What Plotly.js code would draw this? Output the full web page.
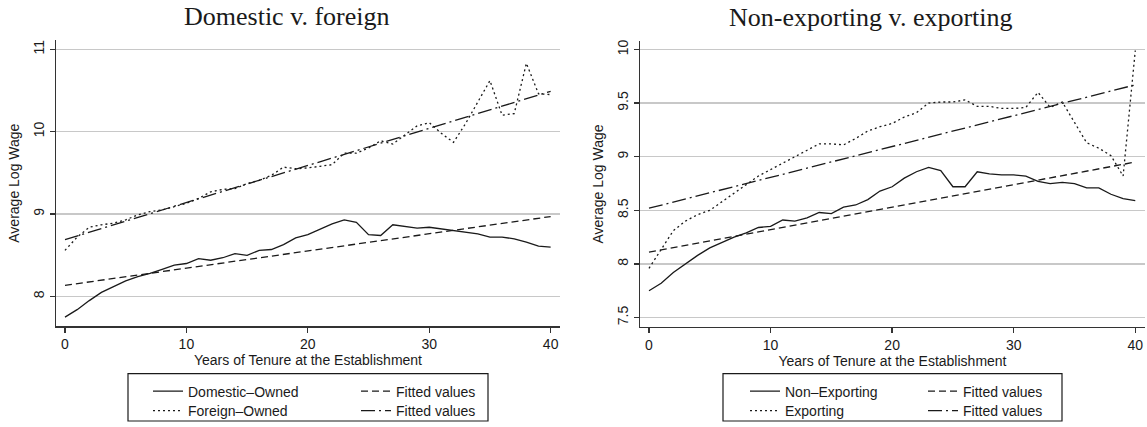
<!DOCTYPE html>
<html>
<head>
<meta charset="utf-8">
<script src="https://cdn.plot.ly/plotly-3.0.1.min.js"></script>
<style>
html,body{margin:0;padding:0;background:#fff;}
#chart{width:1147px;height:427px;}
</style>
</head>
<body>
<div id="chart"></div>
<script>
// ---------- data ----------
const tenure = [0,1,2,3,4,5,6,7,8,9,10,11,12,13,14,15,16,17,18,19,20,21,22,23,24,25,26,27,28,29,30,31,32,33,34,35,36,37,38,39,40];
const domesticOwned = [7.75,7.84,7.95,8.05,8.12,8.19,8.24,8.28,8.33,8.38,8.40,8.46,8.44,8.47,8.52,8.50,8.56,8.57,8.63,8.71,8.75,8.82,8.88,8.93,8.90,8.75,8.74,8.87,8.85,8.83,8.84,8.82,8.80,8.78,8.76,8.72,8.72,8.70,8.66,8.61,8.60];
const foreignOwned = [8.56,8.72,8.84,8.87,8.89,8.93,8.99,9.03,9.05,9.09,9.13,9.19,9.27,9.30,9.31,9.37,9.41,9.47,9.57,9.55,9.56,9.58,9.60,9.74,9.74,9.80,9.89,9.85,9.96,10.07,10.11,9.98,9.87,10.10,10.36,10.62,10.20,10.22,10.83,10.46,10.45];
const nonExporting = [7.75,7.82,7.92,8.00,8.08,8.15,8.20,8.25,8.29,8.34,8.35,8.41,8.40,8.43,8.48,8.47,8.53,8.55,8.60,8.68,8.72,8.80,8.86,8.90,8.87,8.72,8.72,8.86,8.84,8.83,8.83,8.82,8.77,8.75,8.76,8.75,8.71,8.71,8.65,8.61,8.59];
const exporting = [7.96,8.13,8.31,8.40,8.46,8.50,8.58,8.66,8.74,8.82,8.88,8.94,9.00,9.06,9.12,9.12,9.11,9.17,9.24,9.28,9.31,9.37,9.41,9.50,9.51,9.51,9.53,9.47,9.47,9.45,9.45,9.46,9.60,9.46,9.51,9.32,9.13,9.08,9.01,8.82,9.99];
// fitted (linear) values at the ends of the tenure range
const fitTenure = [0, 40];
const domesticFit = [8.135, 8.97];
const foreignFit = [8.69, 10.49];
const nonExportingFit = [8.11, 8.95];
const exportingFit = [8.52, 9.67];
// ticks
const xTicks = [0, 10, 20, 30, 40];
const leftYTicks = [8, 9, 10, 11];
const rightYTicks = [7.5, 8, 8.5, 9, 9.5, 10];
const titles = ["Domestic v. foreign", "Non-exporting v. exporting"];
const xTitle = "Years of Tenure at the Establishment";
const yTitle = "Average Log Wage";
const labels = ["Domestic\u2013Owned", "Foreign\u2013Owned", "Non\u2013Exporting", "Exporting", "Fitted values"];

// ---------- styling ----------
const W = 1147, H = 427;
const INK = '#1a1a1a';
const SANS = 'Liberation Sans, Arial, sans-serif';
const SERIF = 'Liberation Serif, Times New Roman, serif';
const solid = {color: INK, width: 1.3, dash: 'solid'};
const dashed = {color: INK, width: 1.3, dash: '7px,4px'};
const dotted = {color: INK, width: 1.3, dash: '2px,3px'};
const dashdot = {color: INK, width: 1.3, dash: '14px,4px,2px,4px'};

function tr(x, y, name, line, xa, ya, leg) {
  return {x: x, y: y, name: name, type: 'scatter', mode: 'lines', line: line,
          xaxis: xa, yaxis: ya, legend: leg, hoverinfo: 'skip'};
}

const data = [
  tr(tenure, domesticOwned, labels[0], solid, 'x', 'y', 'legend'),
  tr(fitTenure, domesticFit, labels[4], dashed, 'x', 'y', 'legend'),
  tr(tenure, foreignOwned, labels[1], dotted, 'x', 'y', 'legend2'),
  tr(fitTenure, foreignFit, labels[4], dashdot, 'x', 'y', 'legend2'),
  tr(tenure, nonExporting, labels[2], solid, 'x2', 'y2', 'legend3'),
  tr(fitTenure, nonExportingFit, labels[4], dashed, 'x2', 'y2', 'legend3'),
  tr(tenure, exporting, labels[3], dotted, 'x2', 'y2', 'legend4'),
  tr(fitTenure, exportingFit, labels[4], dashdot, 'x2', 'y2', 'legend4')
];

function xAxis(domain, range, anchor) {
  return {
    domain: domain, range: range, anchor: anchor,
    tickvals: xTicks, ticks: 'outside', ticklen: 5, tickwidth: 1.3, tickcolor: '#333',
    showline: true, linecolor: '#333', linewidth: 1.5,
    showgrid: false, zeroline: false, fixedrange: true,
    tickfont: {family: SANS, size: 14, color: INK},
    title: {text: xTitle, font: {family: SANS, size: 14, color: INK}, standoff: 2}
  };
}
function yAxis(domain, range, ticks, anchor) {
  return {
    domain: domain, range: range, anchor: anchor,
    tickvals: ticks, ticks: 'outside', ticklen: 5, tickwidth: 1.3, tickcolor: '#333',
    tickangle: -90,
    showline: true, linecolor: '#333', linewidth: 1.5,
    showgrid: true, gridcolor: '#c8c8c8', gridwidth: 1.3,
    zeroline: false, fixedrange: true,
    tickfont: {family: SANS, size: 14, color: INK},
    title: {text: yTitle, font: {family: SANS, size: 14, color: INK}, standoff: 8}
  };
}
function legendRow(xpx, ypx, ew) {
  return {
    orientation: 'h', x: xpx / W, xanchor: 'left', y: 1 - ypx / H, yanchor: 'top',
    entrywidth: ew, entrywidthmode: 'pixels', itemclick: false, itemdoubleclick: false,
    bgcolor: 'rgba(0,0,0,0)', borderwidth: 0,
    font: {family: SANS, size: 14, color: INK}
  };
}
function box(x0, x1, y0, y1) {
  return {type: 'rect', xref: 'paper', yref: 'paper',
          x0: x0 / W, x1: x1 / W, y0: 1 - y1 / H, y1: 1 - y0 / H,
          line: {color: INK, width: 1.2}, fillcolor: 'rgba(0,0,0,0)', layer: 'above'};
}

const layout = {
  width: W, height: H,
  margin: {l: 0, r: 0, t: 0, b: 0},
  paper_bgcolor: '#fff', plot_bgcolor: '#fff',
  showlegend: true,
  xaxis: xAxis([56 / W, 560 / W], [-0.74, 40.77], 'y'),
  yaxis: yAxis([97 / H, 386.3 / H], [7.64, 11.11], leftYTicks, 'x'),
  xaxis2: xAxis([640 / W, 1145 / W], [-0.74, 40.8], 'y2'),
  yaxis2: yAxis([96.3 / H, 385.3 / H], [7.414, 10.077], rightYTicks, 'x2'),
  legend: legendRow(148, 380, 163),
  legend2: legendRow(148, 400, 163),
  legend3: legendRow(745, 380, 133),
  legend4: legendRow(745, 400, 133),
  shapes: [box(128, 488, 378, 426), box(723, 1062, 378, 426)],
  annotations: [
    {text: titles[0], xref: 'paper', yref: 'paper', x: 287 / W, y: 1 - 17 / H,
     xanchor: 'center', yanchor: 'middle', showarrow: false,
     font: {family: SERIF, size: 26, color: INK}},
    {text: titles[1], xref: 'paper', yref: 'paper', x: 871 / W, y: 1 - 18 / H,
     xanchor: 'center', yanchor: 'middle', showarrow: false,
     font: {family: SERIF, size: 26, color: INK}}
  ]
};

Plotly.newPlot('chart', data, layout, {displayModeBar: false, staticPlot: true});
</script>
</body>
</html>
